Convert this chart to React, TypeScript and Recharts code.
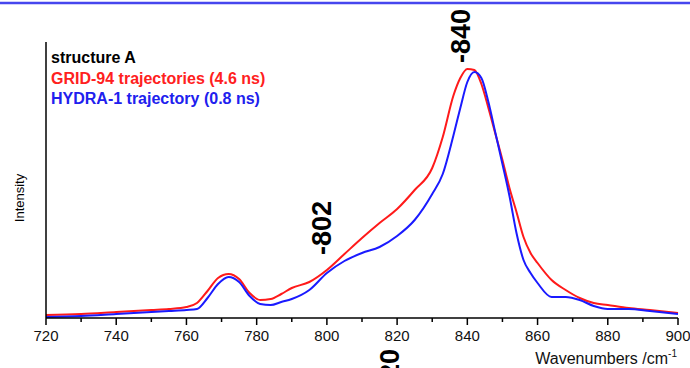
import React from "react";
import { LineChart, Line, XAxis, YAxis } from "recharts";

const wavenumbers = [
  720, 730, 740, 750, 755, 760, 763, 766, 769, 772, 775, 778, 781, 784, 787,
  790, 795, 800, 805, 810, 815, 820, 825, 830, 833, 836, 838, 840, 842, 844,
  846, 848, 850, 852, 854, 856, 858, 860, 864, 868, 872, 876, 880, 886, 892,
  900,
];
const grid94 = [
  3, 4, 6, 8, 9, 11, 15, 27, 40, 44, 39, 25, 18, 19, 24,
  30, 36, 48, 64, 80, 95, 109, 128, 150, 181, 222, 240, 249, 248, 234,
  210, 184, 158, 130, 106, 81, 65, 55, 38, 28, 20, 15, 13, 10, 8,
  5,
];
const hydra1 = [
  1, 2, 4, 6, 7, 8, 9, 20, 34, 41, 36, 22, 14, 13, 16,
  19, 28, 45, 57, 65, 71, 82, 98, 124, 144, 182, 210, 236, 246, 240,
  216, 185, 154, 122, 85, 58, 45, 35, 21, 21, 18, 12, 9, 9, 7,
  4,
];
const xTicks = [720, 730, 740, 750, 760, 770, 780, 790, 800, 810, 820, 830, 840, 850, 860, 870, 880, 890, 900];

const data = wavenumbers.map((w, i) => ({ w, grid: grid94[i], hydra: hydra1[i] }));

const FONT = "'Liberation Sans', Arial, sans-serif";
const TICK_SIZE = 7;
const TICK_MARGIN = 5;

const XTick = (props: any) => {
  const { x, y, payload } = props;
  const base = y - TICK_SIZE - TICK_MARGIN;
  const major = payload.value % 20 === 0;
  return (
    <g>
      <line x1={x} x2={x} y1={base} y2={base + (major ? 7 : 4)} stroke="#000" strokeWidth={1.5} />
      {major && (
        <text x={x} y={y} dy="0.71em" textAnchor="middle" fontSize={15} fill="#111" fontFamily={FONT}>
          {payload.value}
        </text>
      )}
    </g>
  );
};

export default function App() {
  return (
    <div style={{ position: "absolute", left: 0, top: 0, width: 690, height: 368, background: "#fff", fontFamily: FONT }}>
      <LineChart width={690} height={368} data={data} margin={{ top: 42, right: 12, bottom: 20, left: 0 }}>
        <XAxis
          dataKey="w"
          type="number"
          domain={[720, 900]}
          ticks={xTicks}
          interval={0}
          height={30}
          tickLine={false}
          tickSize={TICK_SIZE}
          tickMargin={TICK_MARGIN}
          tick={<XTick />}
          axisLine={{ stroke: "#000", strokeWidth: 1.5 }}
        />
        <YAxis
          type="number"
          domain={[0, 276]}
          width={46}
          tick={false}
          tickLine={false}
          axisLine={{ stroke: "#000", strokeWidth: 1.5 }}
        />
        <Line type="monotone" dataKey="grid" stroke="#ff1a1a" strokeWidth={2} dot={false} isAnimationActive={false} />
        <Line type="monotone" dataKey="hydra" stroke="#1a1aff" strokeWidth={2} dot={false} isAnimationActive={false} />
      </LineChart>
      <svg width={690} height={368} style={{ position: "absolute", left: 0, top: 0, pointerEvents: "none" }} fontFamily={FONT}>
        <line x1={0} x2={690} y1={3} y2={3} stroke="#4646ee" strokeWidth={2.5} />
        <text x={51} y={63} fontSize={16} fontWeight="bold" fill="#000">structure A</text>
        <text x={51} y={84} fontSize={16} fontWeight="bold" fill="#ff2020">GRID-94 trajectories (4.6 ns)</text>
        <text x={51} y={104} fontSize={16} fontWeight="bold" fill="#2020ee">HYDRA-1 trajectory (0.8 ns)</text>
        <text x={19} y={198} transform="rotate(-90 19 198)" textAnchor="middle" dominantBaseline="central" fontSize={13} fill="#000">
          Intensity
        </text>
        <text x={461} y={36} transform="rotate(-90 461 36)" textAnchor="middle" dominantBaseline="central" fontSize={27} fontWeight="bold" fill="#000">
          -840
        </text>
        <text x={322} y={228} transform="rotate(-90 322 228)" textAnchor="middle" dominantBaseline="central" fontSize={27} fontWeight="bold" fill="#000">
          -802
        </text>
        <text x={390} y={349} transform="rotate(-90 390 349)" textAnchor="end" dominantBaseline="central" fontSize={27} fontWeight="bold" fill="#000">
          -820
        </text>
        <text x={677} y={364} textAnchor="end" fontSize={16} fill="#111">
          Wavenumbers /cm<tspan dy={-7} fontSize={10}>-1</tspan>
        </text>
      </svg>
    </div>
  );
}
